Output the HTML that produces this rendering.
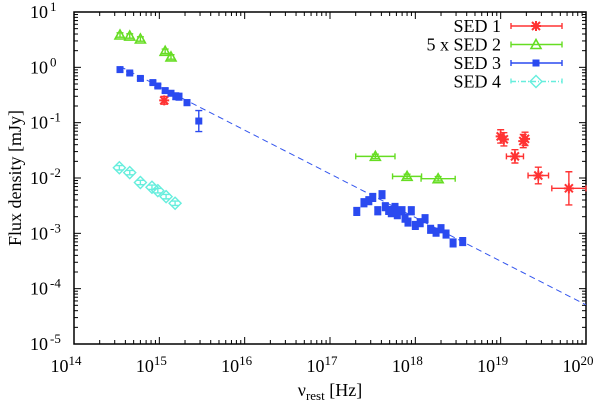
<!DOCTYPE html>
<html><head><meta charset="utf-8"><style>
body{margin:0;background:#fff}
svg text{font-family:"Liberation Serif",serif;fill:#000}
</style></head><body>
<svg id="c" width="602" height="402" xmlns="http://www.w3.org/2000/svg"></svg>
<script>
const xTicks=[14,15,16,17,18,19,20];
const yTicks=[-5,-4,-3,-2,-1,0,1];
const sed1X=[1.14e15,1.0e19,1.09e19,1.47e19,1.84e19,1.93e19,2.76e19,6.3e19];
const sed1Y=[0.253,0.0565,0.050,0.0246,0.0465,0.051,0.0111,0.0065];
const sed1Xerr=[0,0,0,0.1,0,0,0.12,0.2];
const sed1Yerr=[0.07,0.12,0.12,0.12,0.12,0.12,0.15,0.3];
const sed2X=[3.46e14,4.5e14,6.0e14,1.17e15,1.37e15,3.4e17,8e17,1.85e18];
const sed2Y=[3.84,3.68,3.25,1.95,1.54,0.0246,0.0107,0.0097];
const sed2Xerr=[0,0,0,0,0,0.23,0.17,0.2];
const sed3X=[3.46e14,4.5e14,6.0e14,8.4e14,9.6e14,1.17e15,1.37e15,1.56e15,1.7e15,2.11e15,2.9e15,
2.06e17,2.5e17,2.85e17,3.17e17,3.63e17,4.07e17,4.45e17,4.87e17,5.23e17,5.78e17,6.15e17,6.98e17,7.57e17,8.2e17,8.97e17,1.0e18,1.14e18,1.3e18,1.51e18,1.75e18,2.0e18,2.29e18,2.77e18,3.59e18];
const sed3Y=[0.91,0.79,0.63,0.53,0.46,0.38,0.34,0.30,0.295,0.23,0.107,
0.00249,0.00357,0.00389,0.00446,0.00256,0.00499,0.00303,0.00259,0.00236,0.00294,0.00217,0.00256,0.00188,0.0016,0.00256,0.00139,0.00156,0.00184,0.00118,0.00105,0.00121,0.00097,0.00067,0.00071];
const sed3Yerr=[0.03,0.03,0.03,0.03,0.03,0.04,0.04,0.06,0.06,0.05,0.19,
0.07,0.07,0.07,0.07,0.07,0.07,0.07,0.07,0.07,0.07,0.07,0.07,0.07,0.07,0.07,0.07,0.07,0.07,0.07,0.07,0.07,0.07,0.07,0.07];
const sed4X=[3.4e14,4.5e14,6.0e14,8.2e14,9.6e14,1.2e15,1.53e15];
const sed4Y=[0.0153,0.0125,0.0083,0.0068,0.0059,0.0046,0.0035];
const fitX=[3.46e14,1e20];
const fitY=[1.04,5.1e-5];

const svg=document.getElementById('c');
const NS='http://www.w3.org/2000/svg';
const L=74,R=586,T=12,B=344;
const sx=v=>L+(Math.log10(v)-14)/6*(R-L);
const sxl=l=>L+(l-14)/6*(R-L);
const syl=l=>B-(l+5)/6*(B-T);
const sy=v=>syl(Math.log10(v));
function mk(tag,at,parent){const e=document.createElementNS(NS,tag);for(const k in at)e.setAttribute(k,at[k]);(parent||svg).appendChild(e);return e;}

const frame=mk('rect',{x:L,y:T,width:R-L,height:B-T,fill:'none',stroke:'#000','stroke-width':1.5});


const ax=mk('g',{stroke:'#000','stroke-width':1});


for(let d=14;d<20;d++){for(let m=1;m<10;m++){const x=sxl(d+Math.log10(m));const len=m==1?7:4;
mk('line',{x1:x,y1:B,x2:x,y2:B-len},ax);mk('line',{x1:x,y1:T,x2:x,y2:T+len},ax);}}
for(let d=-5;d<1;d++){for(let m=1;m<10;m++){const y=syl(d+Math.log10(m));const len=m==1?7:4;
mk('line',{x1:L,y1:y,x2:L+len,y2:y},ax);mk('line',{x1:R,y1:y,x2:R-len,y2:y},ax);}}
xTicks.forEach(t=>{const tx=mk('text',{x:sxl(t)-8,y:372,'font-size':18,'text-anchor':'middle'});


tx.innerHTML='10<tspan dy="-7" font-size="13">'+t+'</tspan>';});
yTicks.forEach(t=>{const tx=mk('text',{x:48,y:syl(t)+6,'font-size':18,'text-anchor':'end'});


tx.textContent='10';
const s=mk('text',{x:50,y:syl(t)-1,'font-size':13});s.textContent=t;

});
const xt=mk('text',{x:330,y:396,'font-size':18,'text-anchor':'middle'});


xt.innerHTML='ν<tspan dy="4" font-size="13">rest</tspan><tspan dy="-4"> [Hz]</tspan>';
const yt=mk('text',{x:0,y:0,'font-size':18,'text-anchor':'middle',transform:'translate(21,178) rotate(-90)'});


yt.textContent='Flux density [mJy]';

const fl=mk('line',{x1:sx(fitX[0]),y1:sy(fitY[0]),x2:sx(fitX[1]),y2:sy(fitY[1]),stroke:'#3355ee','stroke-width':1,'stroke-dasharray':'6,4'});



function marker(type,x,y,col,g){
 if(type=='star'){mk('path',{d:`M${x-4},${y-4}L${x+4},${y+4}M${x-4},${y+4}L${x+4},${y-4}M${x-5},${y}L${x+5},${y}M${x},${y-5}L${x},${y+5}`,stroke:col,'stroke-width':2,fill:'none'},g);}
 else if(type=='tri'){mk('path',{d:`M${x},${y-5}L${x+5},${y+4}L${x-5},${y+4}Z`,stroke:col,'stroke-width':1.6,fill:'none'},g);}
 else if(type=='sq'){mk('rect',{x:x-3.5,y:y-3.5,width:7,height:7,fill:col},g);}
 else {mk('path',{d:`M${x},${y-6}L${x+6},${y}L${x},${y+6}L${x-6},${y}Z`,stroke:col,'stroke-width':1.4,fill:'none'},g);}
}
function errbar(x,y,lx,ly,col,g){
 if(lx>0){const x1=sxl(Math.log10(x)-lx),x2=sxl(Math.log10(x)+lx),py=sy(y);
  mk('path',{d:`M${x1},${py}L${x2},${py}M${x1},${py-3}L${x1},${py+3}M${x2},${py-3}L${x2},${py+3}`,stroke:col,'stroke-width':1.4,fill:'none'},g);}
 if(ly>0){const y1=syl(Math.log10(y)-ly),y2=syl(Math.log10(y)+ly),px=sx(x);
  mk('path',{d:`M${px},${y1}L${px},${y2}M${px-3.5},${y1}L${px+3.5},${y1}M${px-3.5},${y2}L${px+3.5},${y2}`,stroke:col,'stroke-width':1.4,fill:'none'},g);}
}
function series(name,xs,ys,xe,ye,type,col){
 const g=mk('g',{});
 
 
 xs.forEach((x,i)=>{errbar(x,ys[i],xe?xe[i]:0,ye?ye[i]:0.04,col,g);marker(type,sx(x),sy(ys[i]),col,g);});
}
series('sed-1-series',sed1X,sed1Y,sed1Xerr,sed1Yerr,'star','#ff3333');
series('sed-2-series',sed2X,sed2Y,sed2Xerr,null,'tri','#66dd22');
series('sed-3-series',sed3X,sed3Y,null,sed3Yerr,'sq','#2a4af0');
series('sed-4-series',sed4X,sed4Y,null,null,'dia','#66eedd');

const leg=[['SED 1','star','#ff3333',''],['5 x SED 2','tri','#66dd22',''],['SED 3','sq','#2a4af0',''],['SED 4','dia','#66eedd','5,2,1,2']];
leg.forEach((l,i)=>{const y=26+i*18.5;const g=mk('g',{});


const t=mk('text',{x:501,y:y+6,'font-size':18,'text-anchor':'end'},g);t.textContent=l[0];
mk('path',{d:`M511,${y}L562,${y}M511,${y-3}L511,${y+3}M562,${y-3}L562,${y+3}`,stroke:l[2],'stroke-width':1.4,fill:'none','stroke-dasharray':l[3]},g);
marker(l[1],536,y,l[2],g);});
</script>
</body></html>
